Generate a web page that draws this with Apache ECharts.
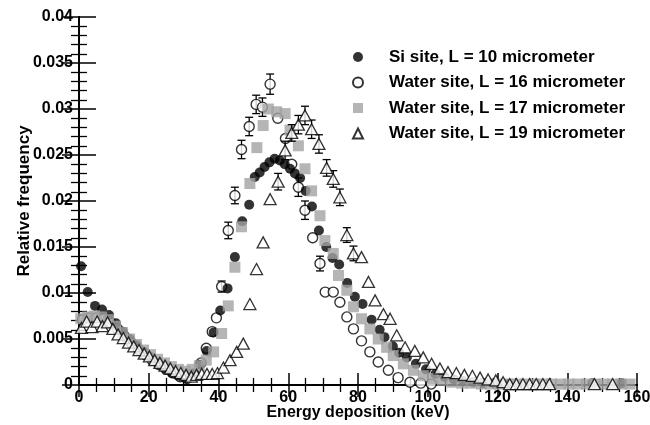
<!DOCTYPE html>
<html>
<head>
<meta charset="utf-8">
<script src="https://cdn.jsdelivr.net/npm/echarts@6/dist/echarts.min.js"></script>
<style>
  html, body { margin: 0; padding: 0; background: #fff; }
  #chart { width: 650px; height: 425px; }
</style>
</head>
<body>
<div id="chart"></div>
<script>
// Energy deposition spectra, [keV, relative frequency, error (0 = none drawn)]
const siL10 = [
  [0.6,0.0129,0],[2.5,0.0101,0],[4.6,0.0086,0],[6.6,0.0082,0],[8.6,0.0076,0],[10.6,0.0067,0],
  [12.6,0.0058,0],[14.6,0.0050,0],[16.6,0.0043,0],[18.6,0.0036,0],[20.6,0.0030,0],[22.6,0.0024,0],
  [24.6,0.0018,0],[26.6,0.0013,0],[28.6,0.0010,0],[30.6,0.0007,0],[32.6,0.0012,0],[34.6,0.0022,0],
  [36.6,0.0037,0],[38.6,0.0057,0],[40.5,0.0081,0],[42.6,0.0105,0],[44.7,0.0139,0],[46.8,0.0178,0],
  [48.8,0.0196,0],[50.4,0.0226,0],[51.8,0.0231,0],[53.2,0.0237,0],[54.6,0.0242,0],[56.1,0.0246,0],
  [57.6,0.0244,0],[59.0,0.0240,0],[60.5,0.0235,0],[61.9,0.0230,0],[63.4,0.0225,0],[65.0,0.0211,0],
  [66.8,0.0194,0],[68.8,0.0168,0],[70.9,0.0150,0],[72.7,0.0138,0],[74.6,0.0131,0],[76.9,0.0111,0],
  [79.1,0.0096,0],[81.3,0.0088,0],[83.9,0.0071,0],[86.2,0.0060,0],[87.6,0.0052,0],[90.0,0.0042,0],
  [91.8,0.0035,0],[94.0,0.0030,0],[96.6,0.0023,0],[99.5,0.0017,0],[102.2,0.0012,0],[104.8,0.0009,0],
  [107.5,0.0006,0],[110.2,0.0004,0],[113.0,0.0003,0],[116.0,0.0002,0],[119.0,0.0002,0],[123.0,0.0001,0],
  [147.2,0.0002,0],[155.6,0.0002,0]
];
const waterL16 = [
  [1,0.0071,0],[3,0.0073,0],[5,0.0073,0],[7,0.0072,0],[9,0.0068,0],[11,0.0061,0],[13,0.0053,0],
  [15,0.0046,0],[17,0.0039,0],[19,0.0033,0],[21,0.0027,0],[23,0.0022,0],[25,0.0017,0],[27,0.0013,0],
  [29,0.0009,0],[31,0.0007,0],[33,0.0012,0],[35,0.0024,0],[36.5,0.0040,0],[38.2,0.0058,0],
  [39.4,0.0073,0],[40.9,0.0107,0.0006],[42.8,0.0168,0.0009],[44.7,0.0206,0.0009],[46.6,0.0256,0.0010],
  [48.8,0.0281,0.0010],[50.8,0.0305,0.0010],[52.6,0.0302,0.0010],[54.8,0.0327,0.0011],[57.0,0.0290,0],
  [59.2,0.0268,0],[61.0,0.0240,0],[62.9,0.0215,0.0010],[64.8,0.0190,0.0010],[67.0,0.0160,0],
  [69.1,0.0132,0.0008],[70.6,0.0101,0],[72.9,0.0101,0],[74.8,0.0090,0],[76.8,0.0074,0],[78.7,0.0061,0],
  [81.0,0.0048,0],[83.4,0.0036,0],[85.8,0.0025,0],[88.7,0.0016,0],[91.5,0.0008,0],[94.9,0.0003,0],
  [98.0,0.0002,0],[101.0,0.0001,0]
];
const waterL17 = [
  [0.5,0.0072,0],[2.5,0.0074,0],[4.5,0.0075,0],[6.5,0.0074,0],[8.5,0.0071,0],[10.5,0.0064,0],
  [12.5,0.0057,0],[14.5,0.0050,0],[16.5,0.0044,0],[18.5,0.0038,0],[20.5,0.0033,0],[22.5,0.0028,0],
  [24.5,0.0024,0],[26.5,0.0020,0],[28.5,0.0017,0],[30.5,0.0015,0],[32.5,0.0017,0],[34.5,0.0021,0],
  [36.5,0.0027,0],[38.6,0.0036,0],[40.9,0.0056,0],[42.8,0.0086,0],[44.7,0.0128,0],[46.6,0.0172,0],
  [49.0,0.0219,0],[51.0,0.0258,0],[52.8,0.0282,0],[54.3,0.0300,0],[56.7,0.0297,0],[59.1,0.0295,0],
  [60.5,0.0277,0],[62.9,0.0260,0],[64.8,0.0235,0],[66.7,0.0211,0],[69.1,0.0184,0],[70.5,0.0157,0],
  [72.9,0.0143,0],[74.4,0.0119,0],[76.8,0.0103,0],[78.7,0.0085,0],[81.0,0.0072,0],[83.4,0.0061,0],
  [85.8,0.0050,0],[88.2,0.0041,0],[90.1,0.0032,0],[93.0,0.0023,0],[95.9,0.0016,0],[98.7,0.0010,0],
  [101.5,0.0007,0],[104.2,0.0005,0],[107.0,0.0003,0],[109.8,0.0002,0],[112.6,0.0002,0],[115.4,0.0001,0],
  [118.0,0.0001,0],[120.5,0.0001,0],[123.0,0.0001,0],[125.5,0.0001,0],[128.0,0.0001,0],[130.5,0.0001,0],
  [133.0,0.0001,0],[135.5,0.0001,0],[138.0,0.0001,0],[140.5,0.0001,0],[143.0,0.0001,0],[145.5,0.0001,0],
  [148.0,0.0001,0],[150.5,0.0001,0],[153.0,0.0001,0],[155.5,0.0001,0],[158.0,0.0001,0]
];
const waterL19 = [
  [0.7,0.0062,0],[2.2,0.0069,0],[3.7,0.0063,0],[5.2,0.0069,0],[6.7,0.0064,0],[8.2,0.0068,0],
  [9.7,0.0061,0],[11.2,0.0055,0],[12.7,0.0051,0],[14.2,0.0046,0],[15.7,0.0042,0],[17.2,0.0038,0],
  [18.7,0.0034,0],[20.2,0.0031,0],[21.7,0.0027,0],[23.2,0.0024,0],[24.7,0.0021,0],[26.2,0.0018,0],
  [27.7,0.0015,0],[29.2,0.0013,0],[30.7,0.0011,0],[32.2,0.0009,0],[33.7,0.0011,0],[35.2,0.0012,0],
  [36.7,0.0012,0],[38.2,0.0012,0],[39.7,0.0013,0],[41.4,0.0019,0],[43.3,0.0027,0],[45.2,0.0036,0],
  [47.1,0.0045,0],[49.0,0.0088,0],[50.9,0.0126,0],[52.8,0.0155,0],[54.8,0.0202,0],[57.1,0.0221,0.0009],
  [59.1,0.0255,0.0010],[61.0,0.0274,0.0009],[62.9,0.0283,0.0010],[64.8,0.0293,0.0010],[66.7,0.0278,0.0010],
  [68.8,0.0262,0.0010],[71.0,0.0236,0.0009],[72.9,0.0224,0.0009],[74.8,0.0204,0.0009],[76.8,0.0163,0.0008],
  [78.7,0.0143,0.0008],[81.0,0.0139,0],[83.0,0.0112,0],[84.9,0.0092,0],[87.3,0.0077,0],[89.2,0.0072,0],
  [91.1,0.0054,0],[93.5,0.0041,0],[96.3,0.0037,0],[98.7,0.0030,0],[101.1,0.0023,0],[103.5,0.0018,0],
  [105.8,0.0014,0],[108.2,0.0013,0],[110.5,0.0011,0],[112.8,0.0010,0],[115.0,0.0008,0],[117.3,0.0006,0],
  [119.5,0.0005,0],[121.6,0.0003,0],[123.5,0.0001,0],[125.4,0.0001,0],[127.3,0.0001,0],[129.2,0.0001,0],
  [131.1,0.0001,0],[133.0,0.0001,0],[134.9,0.0001,0],[147.8,0.0001,0],[153.0,0.0001,0]
];
const seriesNames = [
  'Si site, L = 10 micrometer',
  'Water site, L = 16 micrometer',
  'Water site, L = 17 micrometer',
  'Water site, L = 19 micrometer'
];
const xTicks = { min: 0, max: 160, step: 20 };
const yTicks = { min: 0, max: 0.04, step: 0.005 };

const FONT = '"Liberation Sans", Arial, Helvetica, sans-serif';
const GREY = '#a3a3a3';

function errorBars(params, api) {
  const x = api.value(0), y = api.value(1), e = api.value(2);
  const top = api.coord([x, y + e]);
  const bot = api.coord([x, y - e]);
  const hw = 4;
  const style = { stroke: '#000', lineWidth: 1.3 };
  return {
    type: 'group',
    children: [
      { type: 'line', shape: { x1: top[0], y1: top[1], x2: bot[0], y2: bot[1] }, style },
      { type: 'line', shape: { x1: top[0] - hw, y1: top[1], x2: top[0] + hw, y2: top[1] }, style },
      { type: 'line', shape: { x1: bot[0] - hw, y1: bot[1], x2: bot[0] + hw, y2: bot[1] }, style }
    ]
  };
}
const withErr = d => d.filter(p => p[2] > 0);

const axisCommon = {
  axisLine: { lineStyle: { color: '#000', width: 2 } },
  splitLine: { show: false },
  minorSplitLine: { show: false },
  nameMoveOverlap: false
};

const chart = echarts.init(document.getElementById('chart'), null, { renderer: 'canvas' });
chart.setOption({
  animation: false,
  backgroundColor: '#fff',
  grid: { left: 79, right: 13, top: 17, bottom: 40, outerBoundsMode: 'none', containLabel: false },
  legend: {
    data: seriesNames,
    orient: 'vertical',
    left: 347,
    top: 42,
    itemWidth: 10,
    itemHeight: 10,
    itemGap: 5.5,
    selectedMode: false,
    textStyle: {
      fontFamily: FONT, fontWeight: 'bold', fontSize: 17, color: '#000',
      lineHeight: 20, padding: [0, 0, 0, 21]
    }
  },
  xAxis: [
    Object.assign({}, axisCommon, {
      type: 'value', position: 'bottom',
      min: xTicks.min, max: xTicks.max, interval: xTicks.step,
      name: 'Energy deposition (keV)', nameLocation: 'middle', nameGap: 20,
      nameTextStyle: { fontFamily: FONT, fontWeight: 'bold', fontSize: 16, color: '#000' },
      axisTick: { inside: true, length: 12, lineStyle: { color: '#000', width: 1.5 } },
      minorTick: { show: true, splitNumber: 4, length: 7, lineStyle: { color: '#000', width: 1.3 } },
      axisLabel: { fontFamily: FONT, fontWeight: 'bold', fontSize: 16, color: '#000', margin: 5 }
    }),
    Object.assign({}, axisCommon, {
      type: 'value', position: 'top',
      min: xTicks.min, max: xTicks.max, interval: xTicks.step,
      axisTick: { inside: true, length: 12, lineStyle: { color: '#000', width: 1.5 } },
      minorTick: { show: true, splitNumber: 4, length: 7, lineStyle: { color: '#000', width: 1.3 } },
      axisLabel: { show: false }
    })
  ],
  yAxis: [
    Object.assign({}, axisCommon, {
      type: 'value', position: 'left',
      min: yTicks.min, max: yTicks.max, interval: yTicks.step,
      name: 'Relative frequency', nameLocation: 'middle', nameGap: 46,
      nameTextStyle: { fontFamily: FONT, fontWeight: 'bold', fontSize: 17, color: '#000' },
      axisTick: { inside: true, length: 17, lineStyle: { color: '#000', width: 1.5 } },
      minorTick: { show: true, splitNumber: 5, length: 8, lineStyle: { color: '#000', width: 1.3 } },
      axisLabel: {
        fontFamily: FONT, fontWeight: 'bold', fontSize: 16, color: '#000', margin: 6,
        formatter: v => String(Number(v.toFixed(3)))
      }
    }),
    Object.assign({}, axisCommon, {
      type: 'value', position: 'right',
      min: yTicks.min, max: yTicks.max, interval: yTicks.step,
      axisTick: { inside: true, length: 17, lineStyle: { color: '#000', width: 1.5 } },
      minorTick: { show: true, splitNumber: 5, length: 8, lineStyle: { color: '#000', width: 1.3 } },
      axisLabel: { show: false }
    })
  ],
  series: [
    {
      name: seriesNames[0], type: 'scatter', z: 3,
      data: siL10, symbol: 'circle', symbolSize: 10,
      itemStyle: { color: '#000' }
    },
    {
      name: seriesNames[1], type: 'scatter', z: 2,
      data: waterL16, symbol: 'circle', symbolSize: 10,
      itemStyle: { color: '#fff', borderColor: '#000', borderWidth: 1.4 }
    },
    {
      name: seriesNames[2], type: 'scatter', z: 4,
      data: waterL17, symbol: 'rect', symbolSize: 11,
      itemStyle: { color: GREY }
    },
    {
      name: seriesNames[3], type: 'scatter', z: 6,
      data: waterL19, symbol: 'triangle', symbolSize: [12, 11],
      itemStyle: { color: '#fff', borderColor: '#000', borderWidth: 1.3 }
    },
    {
      name: 'err16', type: 'custom', z: 1, renderItem: errorBars,
      data: withErr(waterL16), encode: { x: 0, y: 1 }
    },
    {
      name: 'err19', type: 'custom', z: 5, renderItem: errorBars,
      data: withErr(waterL19), encode: { x: 0, y: 1 }
    }
  ]
});
</script>
</body>
</html>
